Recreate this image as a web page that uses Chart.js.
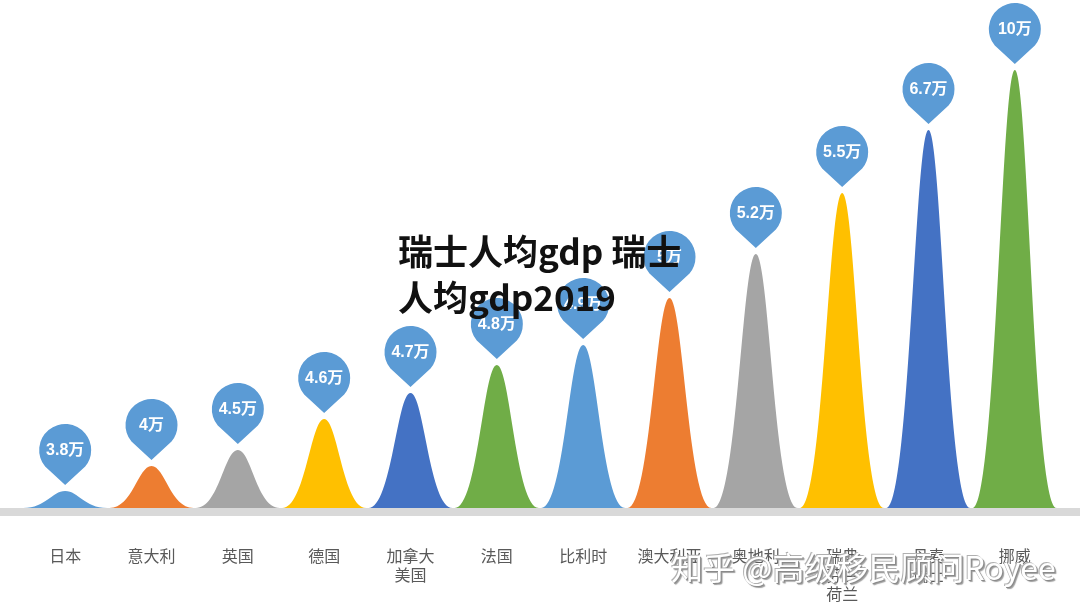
<!DOCTYPE html>
<html>
<head>
<meta charset="utf-8">
<script src="https://cdn.jsdelivr.net/npm/chart.js@4/dist/chart.umd.min.js"></script>
<style>
  html, body { margin: 0; padding: 0; background: #fff; }
  #wrap { position: relative; width: 1080px; height: 615px; }
  #title {
    position: absolute; left: 398px; top: 227px; width: 310px;
    font-family: "Noto Sans CJK SC", sans-serif; font-weight: 700;
    font-size: 35px; line-height: 46px; color: #111;
  }
  #mark {
    position: absolute; left: 671px; top: 543px;
    font-family: "Noto Sans CJK SC", sans-serif; font-size: 32px;
    color: #fff; text-shadow: 1px 1px 0 #8a8a8a, -1px -1px 0 #b0b0b0, 2px 2px 1px #a0a0a0;
  }
</style>
</head>
<body>
<div id="wrap">
  <canvas id="gdpChart" width="1080" height="615"></canvas>
  <div id="title">瑞士人均gdp 瑞士人均gdp2019</div>
  <div id="mark">知乎 @高级移民顾问Royee</div>
</div>
<script>
// 国家（x 轴标签）
const countries = ['日本', '意大利', '英国', '德国', ['加拿大', '美国'], '法国', '比利时',
  '澳大利亚', '奥地利', ['瑞典', '芬兰', '荷兰'], ['丹麦', '瑞士'], '挪威'];
// 气泡里的数值
const valueLabels = ['3.8万', '4万', '4.5万', '4.6万', '4.7万', '4.8万', '4.9万',
  '5万', '5.2万', '5.5万', '6.7万', '10万'];
// 山峰高度（图上读出）
const peakHeights = [17, 42, 58, 89, 115, 143, 163, 210, 254, 315, 378, 438];
const colors = ['#5b9bd5', '#ed7d31', '#a5a5a5', '#ffc000', '#4472c4', '#70ad47',
  '#5b9bd5', '#ed7d31', '#a5a5a5', '#ffc000', '#4472c4', '#70ad47'];

const ctx = document.getElementById('gdpChart').getContext('2d');

// 把柱子画成钟形，上面加气泡
const bellPlugin = {
  id: 'bell',
  afterDatasetsDraw(chart) {
    const c = chart.ctx;
    const meta = chart.getDatasetMeta(0);
    meta.data.forEach((bar, i) => {
      const x = bar.x, top = bar.y, base = bar.base;
      const hw = 42;
      c.save();
      c.fillStyle = colors[i];
      c.beginPath();
      c.moveTo(x - hw, base);
      c.bezierCurveTo(x - hw * 0.45, base, x - hw * 0.32, top, x, top);
      c.bezierCurveTo(x + hw * 0.32, top, x + hw * 0.45, base, x + hw, base);
      c.closePath();
      c.fill();

      // 气泡
      const cy = top - 41, r = 26, tipY = top - 6;
      c.fillStyle = '#5b9bd5';
      c.beginPath();
      c.arc(x, cy, r, Math.PI * 0.78, Math.PI * 0.22);
      c.lineTo(x, tipY);
      c.closePath();
      c.fill();
      c.fillStyle = '#fff';
      c.font = 'bold 16px "Liberation Sans", Arial, "Noto Sans CJK SC"';
      c.textAlign = 'center';
      c.textBaseline = 'middle';
      c.fillText(valueLabels[i], x, cy + 1);
      c.restore();
    });
    // 底部灰条
    c.save();
    c.fillStyle = '#d9d9d9';
    c.fillRect(0, chart.chartArea.bottom, chart.width, 8);
    c.restore();
  }
};

new Chart(ctx, {
  type: 'bar',
  data: {
    labels: countries,
    datasets: [{
      data: peakHeights,
      backgroundColor: 'rgba(0,0,0,0)',
      borderWidth: 0
    }]
  },
  options: {
    responsive: false,
    animation: false,
    layout: { padding: { top: 70, left: 22, right: 22, bottom: 0 } },
    plugins: { legend: { display: false }, tooltip: { enabled: false } },
    scales: {
      x: {
        grid: { display: false, drawTicks: false },
        border: { display: false },
        ticks: {
          color: '#595959',
          font: { family: '"Noto Sans CJK SC"', size: 16, lineHeight: 1.2 },
          padding: 38,
          maxRotation: 0,
          autoSkip: false
        },
        afterFit(scale) { scale.height = 107; }
      },
      y: { display: false, min: 0, max: 438 }
    }
  },
  plugins: [bellPlugin]
});
</script>
</body>
</html>
